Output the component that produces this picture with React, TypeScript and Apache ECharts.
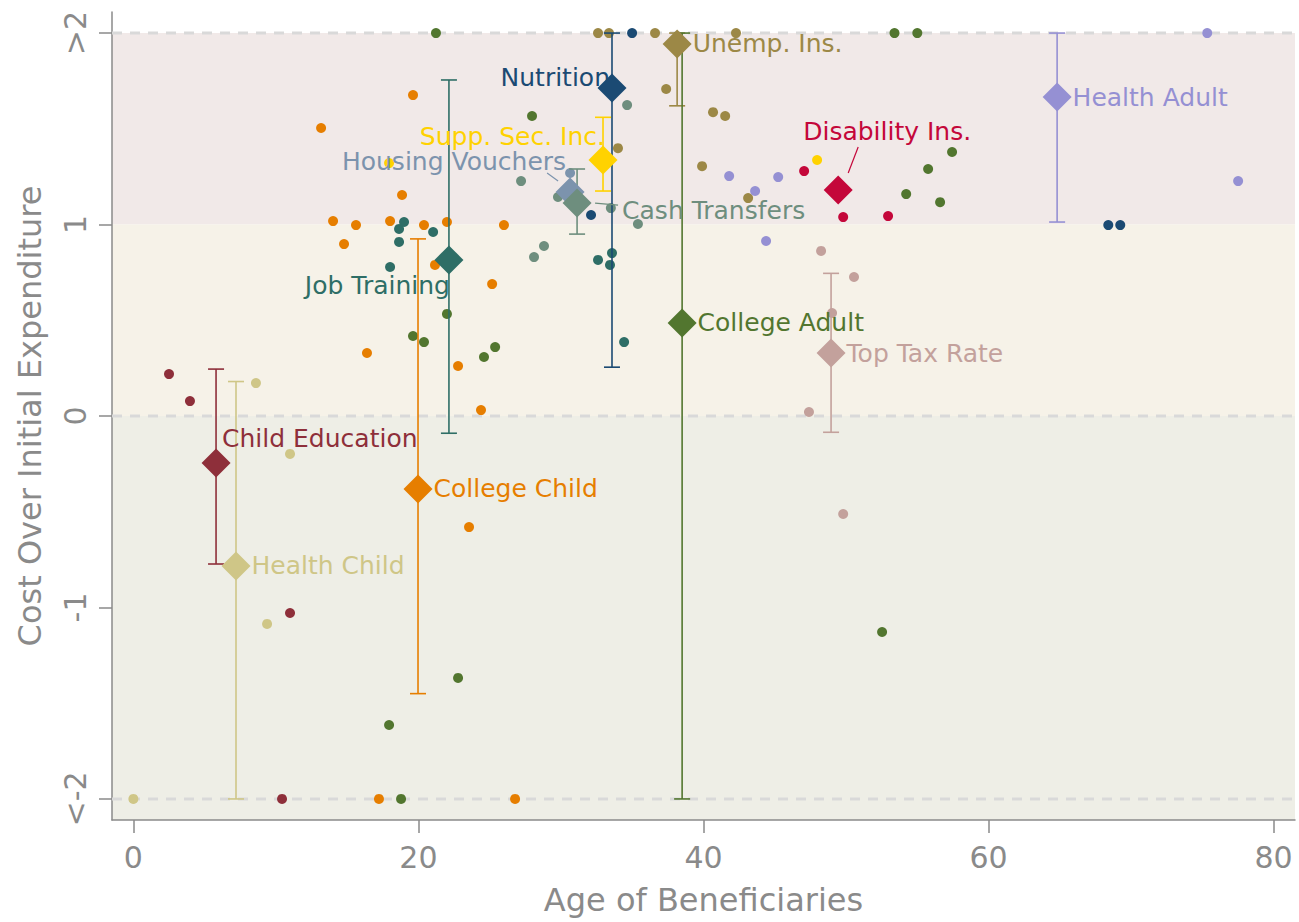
import React, { useEffect, useRef } from "react";
import * as echarts from "echarts";

// ---------- data ----------
const programs = [
  "Child Education", "Health Child", "College Child", "Job Training", "Nutrition",
  "Supp. Sec. Inc.", "Housing Vouchers", "Cash Transfers", "Unemp. Ins.",
  "College Adult", "Disability Ins.", "Top Tax Rate", "Health Adult",
];
const programAge = [5.8, 7.2, 19.97, 22.14, 33.58, 32.95, 30.64, 31.13, 38.15, 38.5, 49.45, 48.95, 64.81];
const programCost = [-0.245, -0.783, -0.381, 0.815, 1.713, 1.337, 1.17, 1.112, 1.943, 0.486, 1.18, 0.329, 1.666];
const ciLow: (number | null)[] = [-0.773, -2, -1.45, -0.09, 0.255, 1.175, null, 0.95, 1.62, -2, null, -0.085, 1.013];
const ciHigh: (number | null)[] = [0.245, 0.18, 0.925, 1.755, 2, 1.56, null, 1.29, 2, 2, null, 0.745, 2];

const dotsChildEducation = [[2.5, 0.219], [3.97, 0.078], [10.99, -1.029], [10.43, -2]];
const dotsHealthChild = [[8.6, 0.172], [10.99, -0.198], [9.38, -1.086], [0, -2]];
const dotsCollegeChild = [
  [19.62, 1.676], [13.17, 1.504], [18.85, 1.154], [14.01, 1.018], [15.62, 0.997], [18.01, 1.018],
  [20.39, 0.997], [22.0, 1.013], [26.0, 0.997], [14.78, 0.898], [21.16, 0.789], [25.17, 0.689],
  [16.39, 0.329], [22.78, 0.261], [24.39, 0.031], [23.55, -0.58], [17.23, -2], [26.78, -2],
];
const dotsJobTraining = [
  [18.64, 0.977], [18.99, 1.013], [18.64, 0.909], [21.03, 0.961], [18.01, 0.778],
  [32.6, 0.815], [33.58, 0.851], [33.44, 0.789], [34.43, 0.386],
];
const dotsNutrition = [[34.99, 2], [32.11, 1.05], [68.4, 0.997], [69.24, 0.997]];
const dotsSuppSecInc = [[17.94, 1.321], [47.97, 1.337]];
const dotsHousingVouchers = [[30.64, 1.269]];
const dotsCashTransfers = [
  [34.64, 1.624], [27.2, 1.227], [33.5, 1.086], [35.4, 1.003], [28.81, 0.888], [28.11, 0.83], [29.79, 1.144],
];
const dotsUnempIns = [
  [32.6, 2], [33.37, 2], [36.6, 2], [42.28, 2], [37.38, 1.708], [40.67, 1.587],
  [41.52, 1.567], [34.0, 1.399], [39.9, 1.305], [43.13, 1.138],
];
const dotsCollegeAdult = [
  [21.23, 2], [53.4, 2], [55.0, 2], [27.97, 1.567], [57.44, 1.379], [55.76, 1.29],
  [54.22, 1.159], [56.6, 1.117], [22.0, 0.533], [19.62, 0.418], [20.39, 0.386],
  [24.6, 0.308], [25.38, 0.36], [22.78, -1.368], [17.94, -1.614], [18.78, -2], [52.53, -1.128],
];
const dotsDisabilityIns = [[47.06, 1.279], [49.8, 1.039], [52.95, 1.044]];
const dotsTopTaxRate = [[48.25, 0.862], [50.56, 0.726], [49.02, 0.538], [47.4, 0.021], [49.8, -0.512]];
const dotsHealthAdult = [[41.8, 1.253], [45.24, 1.248], [43.62, 1.175], [44.39, 0.914], [75.34, 2], [77.51, 1.227]];

const programDots = [
  dotsChildEducation, dotsHealthChild, dotsCollegeChild, dotsJobTraining, dotsNutrition,
  dotsSuppSecInc, dotsHousingVouchers, dotsCashTransfers, dotsUnempIns, dotsCollegeAdult,
  dotsDisabilityIns, dotsTopTaxRate, dotsHealthAdult,
];

const xTicks = [0, 20, 40, 60, 80];
const yTicks = [-2, -1, 0, 1, 2];
const yTickLabels = ["<-2", "-1", "0", "1", ">2"];
const bandLow = [1, 0, -2.11];
const bandHigh = [2, 1, 0];
const dashedLevels = [2, 0, -2];

// ---------- styles ----------
const colors = [
  "#8E2F3A", "#CFC687", "#E67E00", "#2E6E66", "#1B4A73", "#FFD200", "#7C93AD",
  "#6E8E7E", "#9C8846", "#52762F", "#C4073A", "#C3A19C", "#9590D3",
];
const bandColors = ["#F1E9E8", "#F6F2E8", "#EEEEE6"];
const FONT = "DejaVu Sans";
const AXIS_GRAY = "#8A8A8A";

type LabelLayout = { position: any; align?: string };
const labelLayouts: LabelLayout[] = [
  { position: [20.5, -9.5], align: "left" },
  { position: "right" },
  { position: "right" },
  { position: [15.5, 40.5], align: "right" },
  { position: [12.5, 3.5], align: "right" },
  { position: [16.5, -9.5], align: "right" },
  { position: [10.5, -15.5], align: "right" },
  { position: [59.5, 21.5], align: "left" },
  { position: "right" },
  { position: "right" },
  { position: [-20.5, -44.5], align: "left" },
  { position: "right" },
  { position: "right" },
];
// leader line pixel offsets from diamond centre: [dx1, dy1, dx2, dy2]
const leaderIdx = [6, 7, 10];
const leaderOffsets = [
  [-23, -19, -12, -11],
  [18, 0, 41, 2],
  [20, -43, 10, -17],
];

export default function App() {
  const ref = useRef<HTMLDivElement>(null);

  useEffect(() => {
    if (!ref.current) return;
    const chart = echarts.init(ref.current, null, { renderer: "svg" });

    const dotSeries = programs.map((p, i) => ({
      type: "scatter",
      name: p,
      z: 3,
      symbol: "circle",
      symbolSize: 10,
      itemStyle: { color: colors[i], opacity: 1 },
      data: programDots[i],
      silent: true,
    }));

    const option: any = {
      animation: false,
      textStyle: { fontFamily: FONT },
      grid: { left: 112, right: 4, top: 12, bottom: 102, containLabel: false, outerBoundsMode: "none" },
      xAxis: {
        type: "value",
        min: -1.5,
        max: 81.5,
        splitLine: { show: false },
        axisLine: { show: true, onZero: false, lineStyle: { color: AXIS_GRAY, width: 1.5 } },
        axisTick: { show: true, customValues: xTicks, length: 13, lineStyle: { color: AXIS_GRAY, width: 1.5 } },
        axisLabel: { customValues: xTicks, fontSize: 30, color: AXIS_GRAY, margin: 22, fontFamily: FONT },
        name: "Age of Beneficiaries",
        nameLocation: "middle",
        nameGap: 64,
        nameTextStyle: { fontSize: 32, color: AXIS_GRAY, fontFamily: FONT },
      },
      yAxis: {
        type: "value",
        min: -2.11,
        max: 2.11,
        splitLine: { show: false },
        axisLine: { show: true, onZero: false, lineStyle: { color: AXIS_GRAY, width: 1.5 } },
        axisTick: { show: true, customValues: yTicks, length: 13, lineStyle: { color: AXIS_GRAY, width: 1.5 } },
        axisLabel: {
          customValues: yTicks,
          rotate: 90,
          fontSize: 30,
          color: AXIS_GRAY,
          margin: 22,
          fontFamily: FONT,
          formatter: (v: number) => {
            const k = yTicks.indexOf(Math.round(v));
            return k >= 0 ? yTickLabels[k] : "";
          },
        },
        name: "Cost Over Initial Expenditure",
        nameLocation: "middle",
        nameGap: 66,
        nameTextStyle: { fontSize: 32, color: AXIS_GRAY, fontFamily: FONT },
      },
      series: [
        {
          type: "custom",
          name: "bands",
          z: 0,
          silent: true,
          data: bandLow.map((lo, i) => [lo, bandHigh[i]]),
          encode: { y: [0, 1] },
          renderItem: (params: any, api: any) => {
            const cs = params.coordSys;
            const yTop = api.coord([0, api.value(1)])[1];
            const yBot = api.coord([0, api.value(0)])[1];
            return {
              type: "rect",
              shape: { x: cs.x, y: yTop, width: cs.width, height: yBot - yTop },
              style: { fill: bandColors[params.dataIndex] },
            };
          },
        },
        {
          type: "custom",
          name: "dashed",
          z: 1,
          silent: true,
          data: dashedLevels.map((v) => [v]),
          encode: { y: 0 },
          renderItem: (params: any, api: any) => {
            const cs = params.coordSys;
            const y = api.coord([0, api.value(0)])[1];
            return {
              type: "line",
              shape: { x1: cs.x, y1: y, x2: cs.x + cs.width, y2: y },
              style: { stroke: "#D9D9D9", lineWidth: 3, lineDash: [10, 8] },
            };
          },
        },
        ...dotSeries,
        {
          type: "custom",
          name: "ci",
          z: 4,
          silent: true,
          data: programs
            .map((p, i) => (ciLow[i] === null ? null : { value: [programAge[i], ciLow[i], ciHigh[i]], itemStyle: { color: colors[i] } }))
            .filter((d) => d !== null),
          encode: { x: 0, y: [1, 2] },
          renderItem: (params: any, api: any) => {
            const x = api.value(0);
            const pLo = api.coord([x, api.value(1)]);
            const pHi = api.coord([x, api.value(2)]);
            const c = api.visual("color");
            const w = 8;
            const st = { stroke: c, lineWidth: 1.6 };
            return {
              type: "group",
              children: [
                { type: "line", shape: { x1: pLo[0], y1: pLo[1], x2: pHi[0], y2: pHi[1] }, style: st },
                { type: "line", shape: { x1: pLo[0] - w, y1: pLo[1], x2: pLo[0] + w, y2: pLo[1] }, style: st },
                { type: "line", shape: { x1: pHi[0] - w, y1: pHi[1], x2: pHi[0] + w, y2: pHi[1] }, style: st },
              ],
            };
          },
        },
        {
          type: "custom",
          name: "leaders",
          z: 5,
          silent: true,
          data: leaderIdx.map((i) => ({ value: [programAge[i], programCost[i]], itemStyle: { color: colors[i] } })),
          encode: { x: 0, y: 1 },
          renderItem: (params: any, api: any) => {
            const p = api.coord([api.value(0), api.value(1)]);
            const o = leaderOffsets[params.dataIndex];
            return {
              type: "line",
              shape: { x1: p[0] + o[0], y1: p[1] + o[1], x2: p[0] + o[2], y2: p[1] + o[3] },
              style: { stroke: api.visual("color"), lineWidth: 1.2 },
            };
          },
        },
        {
          type: "scatter",
          name: "programs",
          z: 6,
          symbol: "diamond",
          symbolSize: 29,
          silent: true,
          data: programs.map((p, i) => {
            const L = labelLayouts[i];
            return {
              name: p,
              value: [programAge[i], programCost[i]],
              itemStyle: { color: colors[i], opacity: 1 },
              label: {
                show: true,
                formatter: p,
                position: L.position,
                distance: 1,
                align: L.align,
                verticalAlign: "middle",
                color: colors[i],
                fontSize: 25,
                fontFamily: FONT,
              },
            };
          }),
        },
      ],
    };

    chart.setOption(option);
    return () => chart.dispose();
  }, []);

  return (
    <div
      ref={ref}
      style={{ position: "absolute", left: 0, top: 0, width: 1299, height: 922, background: "#fff" }}
    />
  );
}
